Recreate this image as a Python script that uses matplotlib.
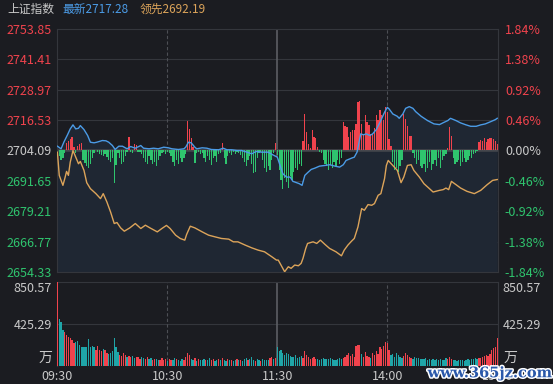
import matplotlib
matplotlib.use('Agg')

import matplotlib.pyplot as plt
import matplotlib.patheffects as pe
import numpy as np

plt.rcParams['font.family'] = ['Noto Sans CJK SC', 'DejaVu Sans']

# ---- data ----
pre_close = 2704.09
latest = 2717.28
leading_last = 2692.19

price_ticks = [2753.85, 2741.41, 2728.97, 2716.53, 2704.09,
               2691.65, 2679.21, 2666.77, 2654.33]
vol_ticks = [425.29, 850.57]
time_pos = [0, 60, 120, 180, 240]
time_labels = ['09:30', '10:30', '11:30', '14:00', '15:00']

# index (blue), minutes since 09:30 (lunch break removed)
blue_t = [0, 2, 3.5, 5.5, 7, 8.5, 10, 11.5, 12.5, 14.5, 16.5, 18, 20, 21.5, 24.5,
          26.5, 28, 30, 31.5, 33.5, 35.5, 38, 40, 42.5, 45.5, 47, 50, 52.5, 55,
          58, 60.5, 62.5, 66, 69, 70, 71.5, 73, 75, 76, 79, 81.5, 84, 88, 90.5,
          92.5, 95, 98, 100.5, 103.5, 106, 108.5, 111.5, 115, 117.5, 120, 121.5,
          123, 125, 127, 128.5, 130.5, 132, 133.5, 135, 136.5, 138.5, 140.5, 143,
          146, 148.5, 151.5, 154, 156, 157.5, 160.5, 162, 163.5, 165.5, 167,
          168.5, 170.5, 172, 174, 176, 178.5, 180, 181, 183, 185.5, 186.5, 188.5,
          190, 192, 194, 195.5, 198.5, 202, 205.5, 208.5, 211, 213, 214.5, 217.5,
          220, 223, 225.5, 228.5, 231, 233.5, 236.5, 239, 240]
blue_v = [2705.84, 2704.78, 2707.48, 2710.50, 2712.94, 2714.58, 2712.94, 2713.19,
          2714.29, 2712.66, 2710.21, 2707.48, 2707.23, 2707.48, 2708.17, 2708.05,
          2707.48, 2706.13, 2704.50, 2705.84, 2705.84, 2704.78, 2705.72, 2705.03,
          2706.13, 2705.03, 2704.78, 2705.03, 2704.78, 2705.44, 2705.19, 2704.78,
          2704.50, 2704.78, 2705.44, 2707.48, 2707.23, 2705.44, 2704.78, 2705.19,
          2705.03, 2704.50, 2704.38, 2705.03, 2704.38, 2704.38, 2704.09, 2704.09,
          2703.40, 2702.74, 2703.68, 2703.40, 2703.40, 2702.34, 2701.36, 2697.97,
          2694.58, 2693.20, 2693.20, 2691.44, 2690.91, 2690.50, 2689.81, 2693.89,
          2694.99, 2696.34, 2696.87, 2697.68, 2697.97, 2698.26, 2697.68, 2697.28,
          2698.26, 2700.01, 2700.95, 2701.36, 2703.40, 2710.90, 2710.50, 2710.90,
          2710.21, 2710.90, 2712.66, 2715.64, 2719.72, 2721.76, 2721.10, 2719.06,
          2718.08, 2717.27, 2719.06, 2721.35, 2722.04, 2721.35, 2720.00, 2718.08,
          2716.33, 2714.98, 2714.70, 2715.64, 2716.33, 2717.27, 2716.33, 2715.39,
          2714.58, 2714.00, 2714.00, 2714.58, 2714.98, 2715.92, 2716.74, 2717.28]

# leading index (orange)
orange_t = [0, 1, 3, 4, 5, 6, 7, 8.5, 10, 11.5, 12.5, 14.5, 16, 18, 21, 23.5, 25,
            27, 29, 31, 32.5, 34.5, 36.5, 39.5, 42.5, 45.5, 48, 50.5, 54.5, 57,
            59.5, 61.5, 64.5, 67, 69.5, 70.5, 72.5, 75, 79, 82.5, 86, 89.5, 93.5,
            96, 98.5, 102.5, 106, 109.5, 113, 117, 119.5, 120.5, 122.5, 124, 126,
            127.5, 129.5, 131.5, 133, 134, 135.5, 136.5, 139.5, 141.5, 143.5, 146,
            148.5, 152, 155, 156.5, 158.5, 160.5, 162, 164, 166, 167.5, 169.5,
            171.5, 173, 175, 176.5, 178.5, 179.5, 180.5, 183, 185.5, 187.5, 189,
            191, 193, 194.5, 197.5, 200, 203, 205, 208.5, 210.5, 212, 213.5, 215,
            217.5, 220, 223.5, 227.5, 231, 234.5, 237.5, 240]
orange_v = [2703.40, 2693.89, 2689.81, 2692.54, 2695.52, 2693.89, 2699.32, 2704.09,
            2701.36, 2698.66, 2699.60, 2695.93, 2690.91, 2688.46, 2686.42, 2684.38,
            2686.42, 2683.00, 2678.92, 2674.18, 2674.59, 2672.39, 2671.04, 2672.39,
            2674.18, 2672.14, 2673.49, 2672.39, 2670.76, 2672.14, 2673.41, 2672.14,
            2669.41, 2668.06, 2667.37, 2669.70, 2673.08, 2672.39, 2670.76, 2669.41,
            2668.72, 2668.06, 2667.78, 2666.68, 2666.68, 2665.33, 2664.23, 2663.29,
            2662.60, 2660.56, 2659.21, 2659.21, 2656.48, 2654.44, 2656.48, 2655.82,
            2657.17, 2656.88, 2657.87, 2659.91, 2663.98, 2666.02, 2666.68, 2666.02,
            2667.37, 2665.62, 2663.98, 2662.60, 2660.96, 2663.29, 2665.33, 2666.96,
            2668.06, 2672.80, 2680.30, 2679.61, 2681.93, 2681.65, 2682.34, 2685.73,
            2686.42, 2692.54, 2697.97, 2700.01, 2697.97, 2695.93, 2690.91, 2693.20,
            2697.97, 2698.26, 2695.93, 2693.20, 2690.50, 2688.46, 2687.08, 2687.77,
            2688.06, 2688.71, 2688.06, 2691.44, 2690.09, 2688.71, 2687.36, 2686.42,
            2687.77, 2690.09, 2691.85, 2692.19]

# buy/sell strength bars, one per minute (own scale, +-121 full height)
strength = [
    0, -6, -10, -8, -3, 7, 9, 11, 13, 3,
    -3, 4, 6, 7, -10, -13, -16, -18, -14, -8,
    -3, 0, -2, -4, -5, -6, -4, -7, -10, -12,
    -8, -33, -15, -3, -8, -14, -12, -6, -2, 13,
    -2, -3, 6, 5, -2, -2, -4, -8, -12, -14,
    -6, -10, -14, -12, -16, -10, -6, -3, -2, -4,
    -2, -3, -6, -12, -16, -10, -14, -8, -12, -8,
    -4, 29, 21, 12, 3, -13, -3, -2, -4, -3,
    -8, -12, -6, -10, -15, -8, -6, -12, -4, -3,
    7, -8, -14, -6, -3, -5, -2, -4, -2, -3,
    -5, -8, -12, -16, -10, -6, -14, -23, -22, -8,
    -3, -2, -10, -18, -22, -16, -20, -10, -3, 7,
    -5, -20, -30, -39, -28, -32, -38, -26, -30, -22,
    -18, -20, -14, -16, 9, 36, 18, 6, 2, 20,
    13, 12, 3, -2, -3, -10, -14, -16, -20, -15,
    -18, -12, -16, -10, -14, -8, 28, 24, 23, 13,
    18, 20, 20, 26, 48, 49, 26, 16, 35, 28,
    25, 16, 16, 22, 35, 30, 40, 35, 30, 43,
    38, 11, 4, -12, -20, -18, -22, -16, -10, 36,
    31, 24, 14, 14, -3, -8, -14, -10, -16, -18,
    -14, -22, -18, -12, -20, -14, -10, -16, -8, -18,
    -10, -6, -4, 2, 23, 14, -8, -14, -12, -10,
    -16, -12, -8, -12, -10, -6, -8, -4, -3, -1,
    8, 10, 9, 12, 8, 11, 12, 12, 11, 9,
    6]

# volume per minute (万)
volume = [
    850, 476, 449, 365, 348, 314, 297, 280, 263, 230,
    247, 257, 213, 196, 189, 189, 196, 273, 189, 203,
    196, 162, 203, 162, 152, 169, 162, 135, 122, 128,
    155, 280, 196, 145, 110, 99, 128, 115, 95, 99,
    88, 99, 80, 95, 88, 70, 95, 80, 72, 88,
    70, 80, 62, 70, 75, 65, 58, 80, 62, 70,
    55, 75, 62, 58, 85, 70, 60, 55, 70, 65,
    95, 128, 110, 75, 60, 80, 55, 70, 60, 65,
    72, 58, 65, 80, 62, 70, 55, 65, 72, 60,
    80, 62, 55, 68, 58, 62, 55, 60, 70, 58,
    62, 55, 75, 80, 60, 70, 90, 62, 55, 68,
    60, 55, 72, 58, 62, 65, 80, 95, 70, 78,
    196, 150, 165, 128, 110, 130, 120, 100, 95, 88,
    110, 85, 90, 100, 80, 155, 110, 95, 70, 85,
    90, 75, 70, 65, 75, 82, 75, 70, 68, 80,
    72, 65, 60, 75, 85, 70, 80, 95, 110, 130,
    100, 120, 95, 200, 215, 210, 120, 90, 140, 100,
    90, 80, 130, 110, 150, 120, 190, 170, 205, 246,
    230, 160, 110, 120, 95, 130, 110, 90, 85, 105,
    130, 110, 90, 80, 75, 95, 80, 85, 70, 75,
    68, 80, 65, 72, 60, 70, 62, 75, 65, 70,
    58, 65, 80, 70, 90, 75, 60, 62, 55, 65,
    58, 62, 55, 60, 70, 65, 72, 68, 80, 75,
    85, 80, 95, 100, 110, 105, 120, 160, 180, 190,
    280]
# r = up minute, g = down minute
vol_dir = ("rgggrrrrrr" "gggggggggg" "grrrrgrrgg" "ggggrrrrgr" "rggrrrggrr"
           "ggrrggrrrr" "grrggrgggr" "rrrggrgrgg" "grggrrggrg" "rggrgrggrg"
           "rgggrgggrg" "grggggrrgr" "gggggggggg" "ggggrrrrrr" "rrgggggggg"
           "ggggggrrrr" "rrrrrrgrrr" "rgrrrrrrrr" "rrgggggggr" "rrrrgggggg"
           "gggggggggg" "gggrrrgggg" "gggggggggg" "rrrrrrrrrr" "r")

# ---- colours ----
BG = '#1b1c21'
GRID = '#34363c'
RED = '#f0434d'
GREEN = '#2fc46e'
TEAL = '#1fa5a8'
TXT = '#c9c9c9'
BLUE = '#4b9be6'
ORANGE = '#dca45a'
FS = 9

fig = plt.figure(figsize=(5.53, 3.84), dpi=100, facecolor=BG)
ax = fig.add_axes([0.1025, 0.2917, 0.798, 0.6328])
axv = fig.add_axes([0.1025, 0.0469, 0.798, 0.2187], sharex=ax)

for a in (ax, axv):
    a.set_facecolor(BG)
    for s in a.spines.values():
        s.set_color(GRID)
        s.set_linewidth(0.8)
    a.tick_params(length=0, colors=TXT, labelsize=FS)

ymin, ymax = price_ticks[-1], price_ticks[0]
minutes = np.arange(len(strength))

# price panel
ax.fill_between(blue_t, blue_v, ymin, color='#1f2733', lw=0, zorder=1)
for p in price_ticks[1:-1]:
    ax.axhline(p, color=GRID, lw=0.8, zorder=0.5)
ax.axhline(pre_close, color='#45474d', lw=1.8, zorder=1.5)

k = (ymax - pre_close) / 121.5
s = np.array(strength)
ax.bar(minutes, s * k, bottom=pre_close, width=0.7,
       color=[RED if v > 0 else GREEN for v in s], lw=0, zorder=2)

ax.plot(orange_t, orange_v, color=ORANGE, lw=1.0, zorder=3)
ax.plot(blue_t, blue_v, color=BLUE, lw=1.0, zorder=4)

for a in (ax, axv):
    a.axvline(60, color='#4d4f55', lw=0.8, ls=(0, (3, 2)), zorder=0.6)
    a.axvline(120, color='#5c5e64', lw=1.2, zorder=0.6)
    a.axvline(180, color='#4d4f55', lw=0.8, ls=(0, (3, 2)), zorder=0.6)

ax.set_xlim(-0.4, 240.4)
ax.set_ylim(ymin, ymax)
ax.set_yticks(price_ticks)
ax.set_yticklabels([f'{p:.2f}' for p in price_ticks])
ax.tick_params(axis='y', pad=3.5)
for lab, p in zip(ax.get_yticklabels(), price_ticks):
    lab.set_color(RED if p > pre_close else (GREEN if p < pre_close else TXT))
ax.tick_params(axis='x', labelbottom=False)

axr = ax.twinx()
axr.set_ylim(ymin, ymax)
axr.set_yticks(price_ticks)
pct = [(p - pre_close) / pre_close * 100 for p in price_ticks]
axr.set_yticklabels([f'{v:.2f}%' for v in pct])
axr.tick_params(length=0, labelsize=FS, pad=5)
for lab, v in zip(axr.get_yticklabels(), pct):
    lab.set_color(RED if v > 0.001 else (GREEN if v < -0.001 else TXT))
for sp in axr.spines.values():
    sp.set_visible(False)

# volume panel
axv.axhline(vol_ticks[0], color=GRID, lw=0.8, zorder=0.5)
axv.bar(minutes, volume, width=0.7,
        color=[RED if d == 'r' else TEAL for d in vol_dir], lw=0, zorder=3)
axv.set_ylim(0, vol_ticks[1])
axv.set_yticks(vol_ticks)
axv.set_yticklabels([f'{v:.2f}' for v in vol_ticks])
axv.tick_params(axis='y', labelleft=True, labelright=True, pad=3.5)
for t in axv.yaxis.get_major_ticks():
    if t.get_loc() == vol_ticks[1]:
        t.label1.set_verticalalignment('top')
        t.label2.set_verticalalignment('top')
axv.set_xticks(time_pos)
axv.set_xticklabels(time_labels)
axv.tick_params(axis='x', pad=3)
axv.spines['bottom'].set_visible(False)
axv.text(-0.01, 0.1, '万', transform=axv.transAxes, ha='right', va='center',
         color=TXT, fontsize=FS + 1)
axv.text(1.012, 0.1, '万', transform=axv.transAxes, ha='left', va='center',
         color=TXT, fontsize=FS + 1)

# header
fig.text(0.013, 0.976, '上证指数', color=TXT, fontsize=8.5, va='center')
fig.text(0.112, 0.976, f'最新{latest:.2f}', color=BLUE, fontsize=8.5, va='center')
fig.text(0.253, 0.976, f'领先{leading_last:.2f}', color=ORANGE, fontsize=8.5,
         va='center')

# watermark
fig.text(0.886, 0.028, 'www.365jz.com', color='#2a58aa', fontsize=10.5,
         fontweight='bold', family='DejaVu Serif', ha='center', va='center',
         path_effects=[pe.withStroke(linewidth=2.2, foreground='white')])

fig.savefig('out.png', dpi=100, facecolor=BG)
